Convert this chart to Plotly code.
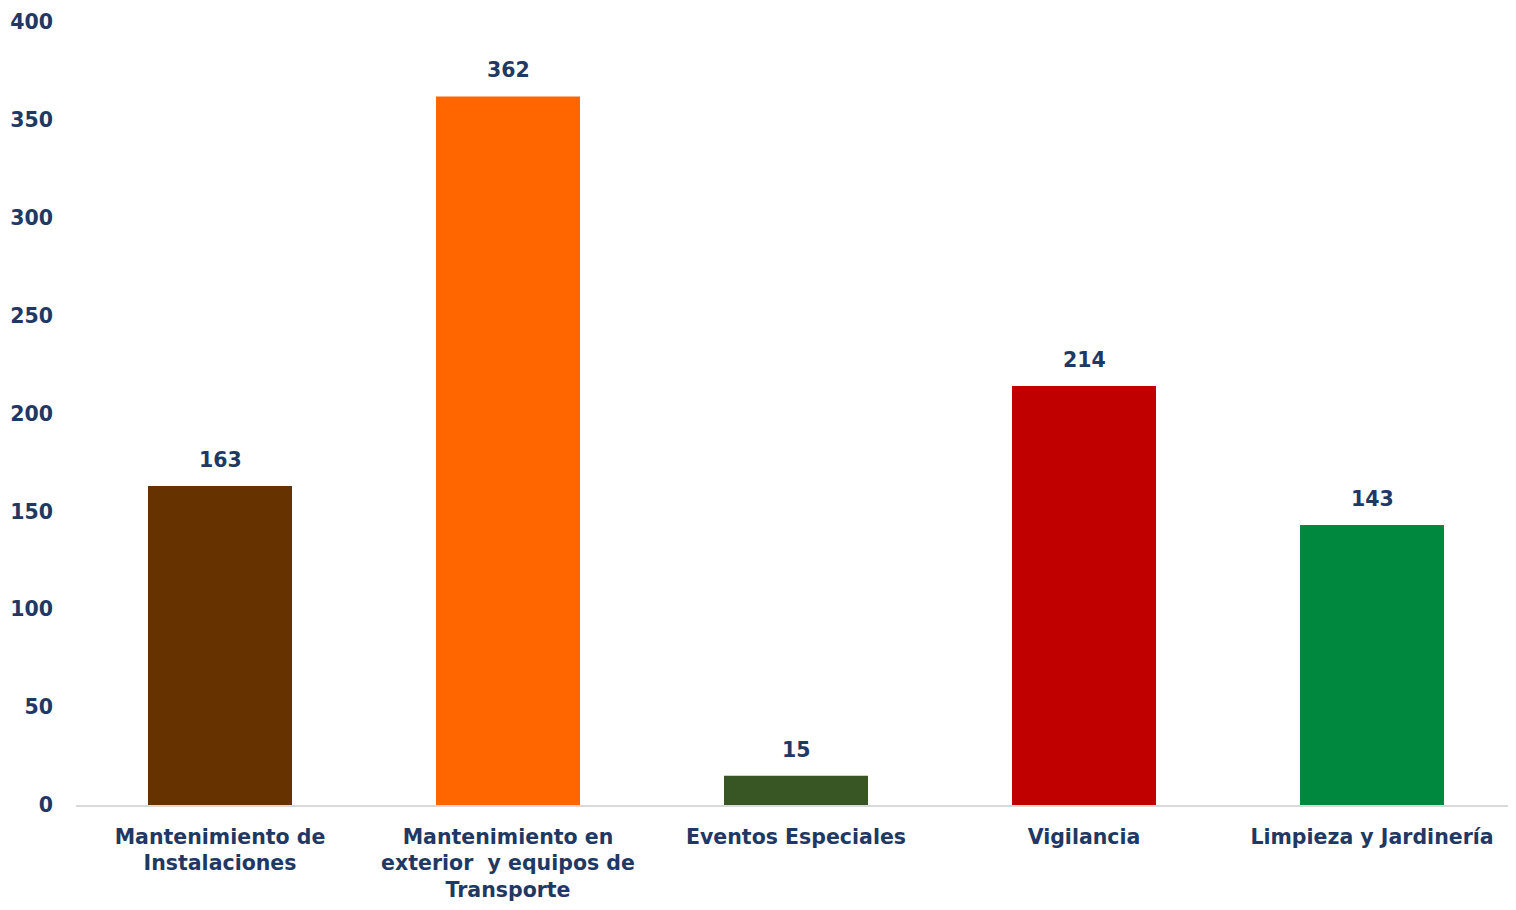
import plotly.graph_objects as go

categories = [
    "Mantenimiento de<br>Instalaciones",
    "Mantenimiento en<br>exterior  y equipos de<br>Transporte",
    "Eventos Especiales",
    "Vigilancia",
    "Limpieza y Jardinería",
]
values = [163, 362, 15, 214, 143]
colors = ["#663300", "#FF6600", "#375623", "#C00000", "#00883E"]
y_ticks = [0, 50, 100, 150, 200, 250, 300, 350, 400]

text_color = "#1F3864"
font_family = "'DejaVu Sans', sans-serif"
fs = 20.5

fig = go.Figure()
fig.add_trace(go.Bar(
    x=categories,
    y=values,
    marker=dict(color=colors, line=dict(width=0)),
    showlegend=False,
    hoverinfo="x+y",
))

for c, v in zip(categories, values):
    fig.add_annotation(
        x=c, y=v, text=f"<b>{v}</b>", showarrow=False,
        yanchor="bottom", yshift=12,
        font=dict(family=font_family, size=fs, color=text_color),
    )

# page body has an 8px margin, so the figure is sized to fit the viewport
fig.update_layout(
    width=1508, height=902,
    margin=dict(l=68, r=0, t=14, b=105, autoexpand=False),
    paper_bgcolor="white", plot_bgcolor="white",
    bargap=0.5,
    font=dict(family=font_family, size=fs, color=text_color),
)
fig.update_xaxes(
    showgrid=False, showline=True, linecolor="#D9D9D9", linewidth=2,
    ticks="", ticklabelstandoff=12, automargin=False,
    tickfont=dict(family=font_family, size=fs, color=text_color, weight="bold"),
)
fig.update_yaxes(
    range=[0, 400], tickvals=y_ticks, showgrid=False, zeroline=False,
    showline=False, ticks="", ticklabelstandoff=22, automargin=False,
    ticklabeloverflow="allow",
    tickfont=dict(family=font_family, size=fs, color=text_color, weight="bold"),
)

fig.write_html("out.html")
